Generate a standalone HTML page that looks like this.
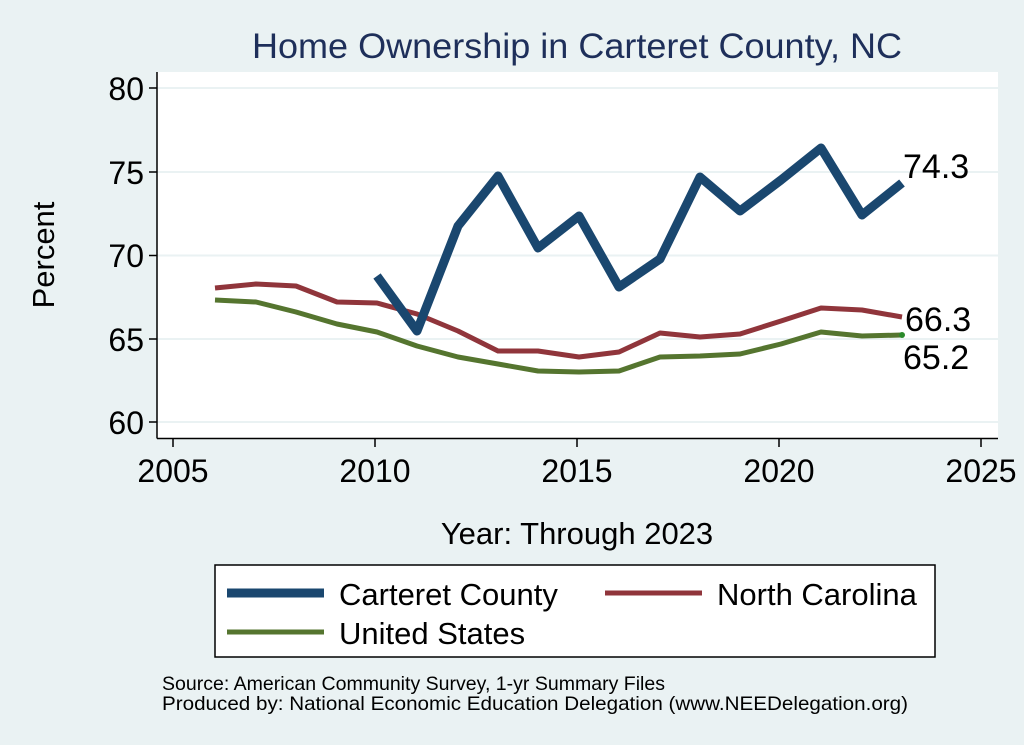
<!DOCTYPE html>
<html><head><meta charset="utf-8"><style>
body{margin:0;background:#eaf2f3;}
svg{display:block;font-family:"Liberation Sans",Arial,sans-serif;}
</style></head><body>
<svg width="1024" height="745" viewBox="0 0 1024 745" xmlns="http://www.w3.org/2000/svg">
<rect width="1024" height="745" fill="#eaf2f3"/>
<text x="577" y="58" font-size="35" fill="#1e2f5a" text-anchor="middle" textLength="650" lengthAdjust="spacingAndGlyphs">Home Ownership in Carteret County, NC</text>
<rect x="157" y="72" width="841" height="366" fill="#fff"/>
<g stroke="#eaf2f3" stroke-width="2">
<line x1="157" x2="998" y1="88" y2="88"/><line x1="157" x2="998" y1="172" y2="172"/>
<line x1="157" x2="998" y1="255.5" y2="255.5"/><line x1="157" x2="998" y1="339" y2="339"/>
<line x1="157" x2="998" y1="422" y2="422"/>
</g>
<g stroke="#000" stroke-width="1.5">
<line x1="157" y1="72" x2="157" y2="438.5"/><line x1="157" y1="438.5" x2="998" y2="438.5"/>
<line x1="149" x2="157" y1="88" y2="88"/><line x1="149" x2="157" y1="172" y2="172"/>
<line x1="149" x2="157" y1="255.5" y2="255.5"/><line x1="149" x2="157" y1="339" y2="339"/>
<line x1="149" x2="157" y1="422" y2="422"/>
<line x1="173" x2="173" y1="438" y2="447"/><line x1="375" x2="375" y1="438" y2="447"/>
<line x1="577" x2="577" y1="438" y2="447"/><line x1="779" x2="779" y1="438" y2="447"/>
<line x1="981" x2="981" y1="438" y2="447"/>
</g>
<g font-size="32" fill="#000" text-anchor="end">
<text x="144" y="100">80</text><text x="144" y="184">75</text><text x="144" y="267">70</text>
<text x="144" y="351">65</text><text x="144" y="434">60</text>
</g>
<g font-size="32" fill="#000" text-anchor="middle">
<text x="173" y="482">2005</text><text x="375" y="482">2010</text><text x="577" y="482">2015</text>
<text x="779" y="482">2020</text><text x="981" y="482">2025</text>
</g>
<text x="54" y="255" font-size="31" text-anchor="middle" transform="rotate(-90 54 255)">Percent</text>
<text x="577" y="544" font-size="31" text-anchor="middle">Year: Through 2023</text>
<polyline fill="none" stroke="#55752f" stroke-width="5" stroke-linejoin="round" points="215,300 256,302 296,312 337,324 377,332 417,346 458,357 498,364 538,371 579,372 619,371 660,357 700,356 740,354 781,344 821,332 862,336 902,335"/>
<polyline fill="none" stroke="#90353b" stroke-width="5" stroke-linejoin="round" points="215,288 256,284 296,286 337,302 377,303 417,314 458,331 498,351 538,351 579,357 619,352 660,333 700,337 740,334 781,321 821,308 862,310 902,317"/>
<polyline fill="none" stroke="#1a476f" stroke-width="9" stroke-linejoin="round" points="377,276 417,331 458,226 498,176 538,248 579,216 619,287 660,259 700,177 740,211 781,180 821,148 862,215 902,183"/>
<circle cx="902" cy="335" r="3" fill="#2a8a2a"/>
<g font-size="34" fill="#000">
<text x="903" y="178">74.3</text><text x="905" y="331">66.3</text><text x="903" y="369">65.2</text>
</g>
<rect x="215" y="565" width="720" height="92" fill="#fff" stroke="#000" stroke-width="1.5"/>
<line x1="227" x2="324" y1="593" y2="593" stroke="#1a476f" stroke-width="9"/>
<line x1="605" x2="702" y1="593" y2="593" stroke="#90353b" stroke-width="5"/>
<line x1="227" x2="324" y1="632" y2="632" stroke="#55752f" stroke-width="5"/>
<g font-size="31" fill="#000">
<text x="339" y="605">Carteret County</text><text x="717" y="605">North Carolina</text>
<text x="339" y="644">United States</text>
</g>
<g font-size="19.5" fill="#000">
<text x="162" y="690" textLength="503" lengthAdjust="spacingAndGlyphs">Source: American Community Survey, 1-yr Summary Files</text>
<text x="162" y="710" textLength="746" lengthAdjust="spacingAndGlyphs">Produced by: National Economic Education Delegation (www.NEEDelegation.org)</text>
</g>
</svg>
</body></html>
